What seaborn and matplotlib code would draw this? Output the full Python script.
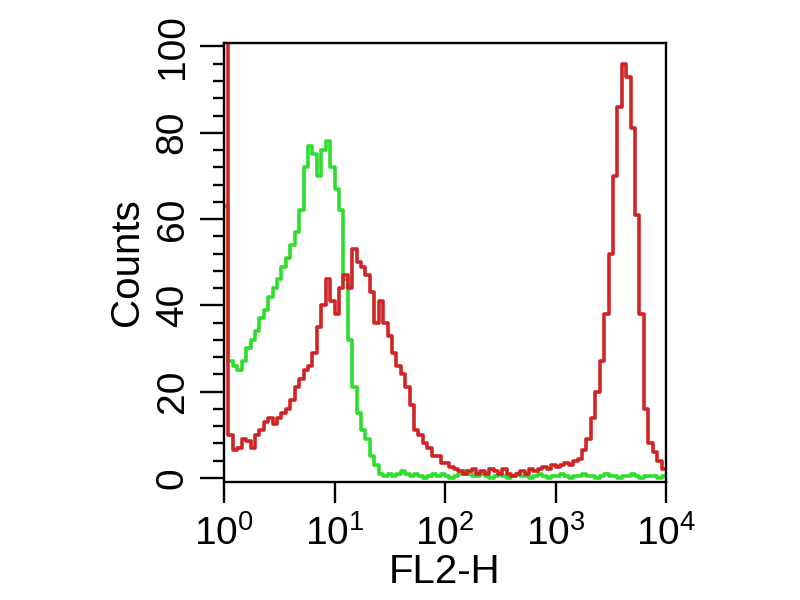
import numpy as np
import pandas as pd
import matplotlib
matplotlib.use("Agg")
import matplotlib.pyplot as plt
import matplotlib.ticker as mticker
import seaborn as sns

# 100 log-spaced channels over four decades (FL2-H, 10^0 .. 10^4)
channel_edges = np.logspace(0, 4, 101)

# isotype control (green), counts per channel
control_counts = [
    63, 27, 26, 25, 27, 30, 32, 34, 37, 39,
    42, 44, 46, 49, 51, 54, 57, 62, 72, 77,
    75, 70, 76, 78, 72, 67, 62, 46, 32, 21,
    15, 11, 9, 5, 3, 1, 0.5, 1, 0.5, 1,
    1.5, 1, 0.5, 1, 0.5, 0, 0.5, 1, 0.5, 1,
    0.5, 0, 0.5, 1, 1.5, 1, 0.5, 0.5, 1, 0.5,
    0, 0.5, 1, 0.5, 0, 0.5, 1, 0.5, 0.5, 0,
    0.5, 1, 0.5, 0, 0.5, 0.5, 1, 0.5, 0, 0.5,
    0.5, 1, 0.5, 0.5, 0, 0.5, 1, 0.5, 0.5, 0,
    0.5, 0.5, 1, 0.5, 0, 0.5, 0.5, 0.5, 0, 0.5,
]

# stained sample (red), counts per channel
stained_counts = [
    140, 10, 6.5, 7, 9, 8.5, 7, 10, 11, 13,
    14, 12.5, 14, 15, 16, 18, 21, 23, 25, 26,
    29, 35, 40, 46, 41, 38, 44, 47, 44, 53,
    50, 49, 47, 43, 36, 41, 36, 33, 29, 26,
    24, 21, 17, 11, 10, 8, 7, 5, 5, 3.5,
    3.5, 2.5, 2, 1.5, 1, 1.5, 2, 1, 1.5, 1,
    2, 1.5, 1, 2, 1, 0.5, 1, 1.5, 1, 2,
    1.5, 2, 2.5, 2, 3, 2.5, 3, 3.5, 3, 4,
    4.5, 6.5, 9, 14, 20, 27, 38, 52, 70, 86,
    96, 93, 81, 61, 38, 16, 8, 6, 4, 2,
]

GREEN = "#2FDD2F"
RED = "#D02525"


def step_frame(counts):
    # repeat the last count so the final channel gets its own step
    return pd.DataFrame({"FL2-H": channel_edges,
                         "Counts": list(counts) + [counts[-1]]})


sns.set_style("ticks")
plt.rcParams["font.family"] = ["Liberation Sans", "DejaVu Sans"]
plt.rcParams["mathtext.fontset"] = "custom"
plt.rcParams["mathtext.rm"] = "Liberation Sans"
plt.rcParams["text.color"] = "black"
plt.rcParams["axes.labelcolor"] = "black"
plt.rcParams["xtick.color"] = "black"
plt.rcParams["ytick.color"] = "black"

fig = plt.figure(figsize=(8, 6), dpi=100)
ax = fig.add_axes([0.28, 0.197, 0.5525, 0.732])

sns.lineplot(data=step_frame(control_counts), x="FL2-H", y="Counts", ax=ax,
             color=GREEN, lw=2.6, drawstyle="steps-post", estimator=None)
sns.lineplot(data=step_frame(stained_counts), x="FL2-H", y="Counts", ax=ax,
             color=RED, lw=2.6, drawstyle="steps-post", estimator=None)

ax.set_xscale("log")
ax.set_xlim(1, 1e4)
ax.set_ylim(-0.9, 100.9)

# log axis ticks, FACS style
ax.xaxis.set_major_locator(mticker.FixedLocator([1, 10, 100, 1000, 10000]))
ax.xaxis.set_major_formatter(mticker.FixedFormatter(
    [r"$\mathregular{10^{%d}}$" % i for i in range(5)]))
ax.xaxis.set_minor_locator(mticker.LogLocator(base=10, subs=np.arange(2, 10)))
ax.xaxis.set_minor_formatter(mticker.NullFormatter())

ax.yaxis.set_major_locator(mticker.MultipleLocator(20))
ax.yaxis.set_minor_locator(mticker.MultipleLocator(4))

ax.tick_params(which="major", direction="out", length=17, width=1.7,
               labelsize=28, pad=7)
ax.tick_params(which="minor", direction="out", length=8, width=1.7)
ax.tick_params(axis="x", which="major", length=15, pad=9)
ax.tick_params(axis="x", which="minor", length=7)
for lab in ax.get_yticklabels():
    lab.set_rotation(90)
    lab.set_va("center")

for sp in ax.spines.values():
    sp.set_color("black")
    sp.set_linewidth(1.7)

ax.set_xlabel("FL2-H", fontsize=29, labelpad=0)
ax.set_ylabel("Counts", fontsize=29, labelpad=6)

fig.savefig("out.png", dpi=100, facecolor="white")
